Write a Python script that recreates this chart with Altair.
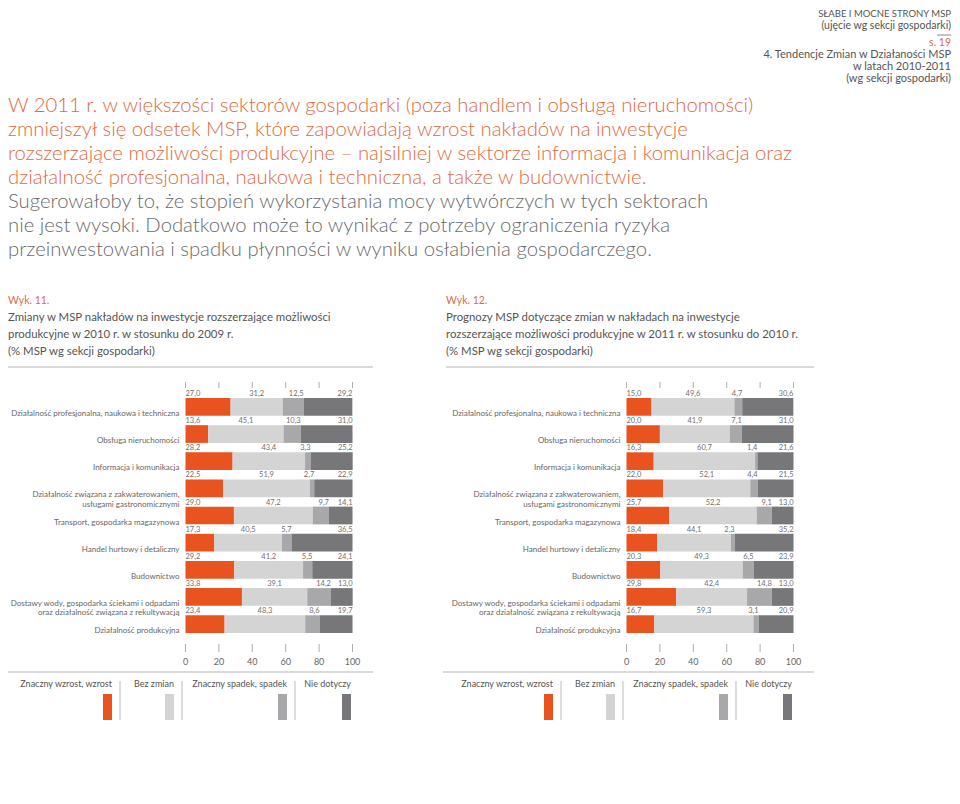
import altair as alt
import pandas as pd

FONT = "Lato"

# ---------------- data ----------------
categories = [
    "Działalność profesjonalna, naukowa i techniczna",
    "Obsługa nieruchomości",
    "Informacja i komunikacja",
    "Działalność związana z zakwaterowaniem,\nusługami gastronomicznymi",
    "Transport, gospodarka magazynowa",
    "Handel hurtowy i detaliczny",
    "Budownictwo",
    "Dostawy wody, gospodarka ściekami i odpadami\noraz działalność związana z rekultywacją",
    "Działalność produkcyjna",
]
series = ["Znaczny wzrost, wzrost", "Bez zmian", "Znaczny spadek, spadek", "Nie dotyczy"]

w11_wzrost = [27.0, 13.6, 28.2, 22.5, 29.0, 17.3, 29.2, 33.8, 23.4]
w11_bez = [31.2, 45.1, 43.4, 51.9, 47.2, 40.5, 41.2, 39.1, 48.3]
w11_spadek = [12.5, 10.3, 3.3, 2.7, 9.7, 5.7, 5.5, 14.2, 8.6]
w11_nie = [29.2, 31.0, 25.2, 22.9, 14.1, 36.5, 24.1, 13.0, 19.7]

w12_wzrost = [15.0, 20.0, 16.3, 22.0, 25.7, 18.4, 20.3, 29.8, 16.7]
w12_bez = [49.6, 41.9, 60.7, 52.1, 52.2, 44.1, 49.3, 42.4, 59.3]
w12_spadek = [4.7, 7.1, 1.4, 4.4, 9.1, 2.3, 6.5, 14.8, 3.1]
w12_nie = [30.6, 31.0, 21.6, 21.5, 13.0, 35.2, 23.9, 13.0, 20.9]

axis_ticks = [0, 20, 40, 60, 80, 100]

body_orange = [
    "W 2011 r. w większości sektorów gospodarki (poza handlem i obsługą nieruchomości)",
    "zmniejszył się odsetek MSP, które zapowiadają wzrost nakładów na inwestycje",
    "rozszerzające możliwości produkcyjne – najsilniej w sektorze informacja i komunikacja oraz",
    "działalność profesjonalna, naukowa i techniczna, a także w budownictwie.",
]
body_gray = [
    "Sugerowałoby to, że stopień wykorzystania mocy wytwórczych w tych sektorach",
    "nie jest wysoki. Dodatkowo może to wynikać z potrzeby ograniczenia ryzyka",
    "przeinwestowania i spadku płynności w wyniku osłabienia gospodarczego.",
]
head_top = ["SŁABE I MOCNE STRONY MSP", "(ujęcie wg sekcji gospodarki)"]
head_page = "s. 19"
head_section = ["4. Tendencje Zmian w Działaności MSP", "w latach 2010-2011", "(wg sekcji gospodarki)"]

w11_label = "Wyk. 11."
w11_title = [
    "Zmiany w MSP nakładów na inwestycje rozszerzające możliwości",
    "produkcyjne w 2010 r. w stosunku do 2009 r.",
    "(% MSP wg sekcji gospodarki)",
]
w12_label = "Wyk. 12."
w12_title = [
    "Prognozy MSP dotyczące zmian w nakładach na inwestycje",
    "rozszerzające możliwości produkcyjne w 2011 r. w stosunku do 2010 r.",
    "(% MSP wg sekcji gospodarki)",
]

# ---------------- styles / layout ----------------
colors = ["#E9531F", "#D4D4D4", "#A8A8AA", "#77777A"]
ORANGE_TXT = "#E06A3F"
GRAY_TXT = "#6A6A6C"
W, H = 944, 788
PANEL_DX = 441
PLOT_X0 = 177.5
PLOT_W = 167


def long_df(lists):
    rows = []
    for ci, cat in enumerate(categories):
        for si, s in enumerate(series):
            rows.append({"category": cat, "series": s, "order": si, "value": lists[si][ci]})
    return pd.DataFrame(rows)


Y = alt.Y(
    "category:N",
    sort=categories,
    scale=alt.Scale(domain=categories, range=[390, 625], paddingInner=0.347, paddingOuter=0),
    axis=None,
)
COLOR = alt.Color("series:N", scale=alt.Scale(domain=series, range=colors), legend=None)


def one(text, x, y, size, color, align="left", line_height=None, weight="normal"):
    kw = dict(align=align, baseline="alphabetic", fontSize=size, color=color, font=FONT,
              fontWeight=weight, lineBreak="\n")
    if line_height:
        kw["lineHeight"] = line_height
    return alt.Chart(alt.Data(values=[{}])).mark_text(**kw).encode(
        x=alt.value(x), y=alt.value(y), text=alt.value(text)
    )


def hrule(x1, x2, y, color="#B5B5B5", width=1):
    return alt.Chart(alt.Data(values=[{}])).mark_rule(color=color, strokeWidth=width).encode(
        x=alt.value(x1), x2=alt.value(x2), y=alt.value(y)
    )


def vrule(x, y1, y2, color="#BDBDBD", width=1):
    return alt.Chart(alt.Data(values=[{}])).mark_rule(color=color, strokeWidth=width).encode(
        x=alt.value(x), y=alt.value(y1), y2=alt.value(y2)
    )


def panel(lists, x0):
    xs = alt.Scale(domain=[0, 100], range=[x0, x0 + PLOT_W])
    df = long_df(lists)
    base = alt.Chart(df).transform_stack(
        stack="value", groupby=["category"], as_=["x0", "x1"],
        sort=[alt.SortField("order", order="ascending")],
    ).transform_calculate(
        lbl="replace(format(datum.value, '.1f'), '.', ',')",
        lx="datum.order == 0 ? datum.x0 : (datum.order == 1 ? (datum.x0 + datum.x1) / 2 : datum.x1)",
    )
    bars = base.mark_bar().encode(
        x=alt.X("x0:Q", scale=xs, axis=None), x2="x1:Q", y=Y, color=COLOR
    )
    layers = [bars]
    for cond, al in [("datum.order == 0", "left"), ("datum.order == 1", "center"), ("datum.order >= 2", "right")]:
        layers.append(
            base.transform_filter(cond).mark_text(
                align=al, baseline="alphabetic", dy=-11, fontSize=7.5, color="#707070", font=FONT
            ).encode(x=alt.X("lx:Q", scale=xs, axis=None), y=Y, text="lbl:N")
        )
    cats = alt.Chart(pd.DataFrame({"category": categories})).mark_text(
        align="right", baseline="bottom", dy=11, fontSize=8, color="#666666", font=FONT,
        lineBreak="\n", lineHeight=9.5,
    ).encode(x=alt.value(x0 - 6), y=Y, text="category:N")
    layers.append(cats)
    tdf = pd.DataFrame({"t": axis_ticks})
    for y1, y2 in [(374, 380), (636, 644)]:
        layers.append(
            alt.Chart(tdf).mark_rule(color="#9A9A9A", strokeWidth=0.8).encode(
                x=alt.X("t:Q", scale=xs, axis=None), y=alt.value(y1), y2=alt.value(y2)
            )
        )
    layers.append(
        alt.Chart(tdf).mark_text(fontSize=9, color="#666666", font=FONT, baseline="alphabetic").encode(
            x=alt.X("t:Q", scale=xs, axis=None), y=alt.value(657), text="t:Q"
        )
    )
    return alt.layer(*layers)


left = panel([w11_wzrost, w11_bez, w11_spadek, w11_nie], PLOT_X0)
right = panel([w12_wzrost, w12_bez, w12_spadek, w12_nie], PLOT_X0 + PANEL_DX)

deco = [
    one("\n".join(body_orange), 0, 103.7, 20.3, ORANGE_TXT, line_height=24, weight=300),
    one("\n".join(body_gray), 0, 199.7, 20.3, GRAY_TXT, line_height=24, weight=300),
    one(head_top[0], 943, 9, 9.5, "#555555", align="right"),
    one(head_top[1], 943, 21, 10.5, "#555555", align="right"),
    hrule(929, 943, 27, color="#888888"),
    one(head_page, 943, 38, 10.5, ORANGE_TXT, align="right"),
    one("\n".join(head_section), 943, 50, 11, "#555555", align="right", line_height=12),
]

legend_right = [104, 166, 279, 343]
legend_seps = [112, 174, 287]
for dx, label, title in [(0, w11_label, w11_title), (PANEL_DX, w12_label, w12_title)]:
    lx0 = dx + (0 if dx == 0 else -3)
    deco.append(one(label, lx0, 296, 10.5, ORANGE_TXT))
    deco.append(one("\n".join(title), lx0, 313, 11.4, "#555555", line_height=17))
    deco.append(hrule(lx0, dx + 365, 359))
    deco.append(hrule(dx + (-3 if dx == 0 else -6), dx + 365, 664))
    for i, s in enumerate(series):
        xr = dx + legend_right[i]
        deco.append(one(s, xr, 679, 9, "#555555", align="right"))
        deco.append(
            alt.Chart(alt.Data(values=[{}])).mark_rect(color=colors[i]).encode(
                x=alt.value(xr - 9), x2=alt.value(xr), y=alt.value(686), y2=alt.value(712)
            )
        )
    for sx in legend_seps:
        deco.append(vrule(dx + sx, 673, 712))

chart = alt.layer(*deco, left, right).resolve_scale(x="independent").properties(
    width=W, height=H, autosize=alt.AutoSizeParams(type="none"), padding=0
).configure_view(strokeWidth=0)

chart.save("out.html", embed_options={"renderer": "svg", "actions": False})
